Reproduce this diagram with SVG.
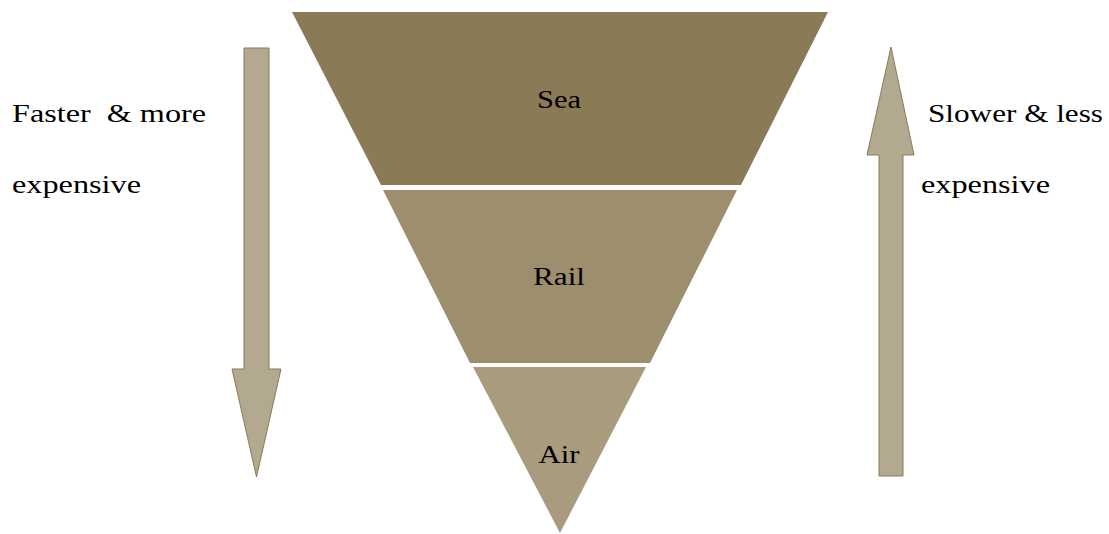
<svg xmlns="http://www.w3.org/2000/svg" width="1109" height="534" viewBox="0 0 1109 534">
<style>
.t{font-family:"Liberation Serif","Times New Roman",serif;font-size:26px;fill:#000}
.arrow{fill:#b3a890;stroke:#8b7b57;stroke-width:1}
</style>
<rect width="1109" height="534" fill="#fff"/>
<g id="sea">
<polygon points="292,12 828,12 741,185 381,185" fill="#8a7a56"/>
<text class="t" x="559" y="108" text-anchor="middle" textLength="44" lengthAdjust="spacingAndGlyphs">Sea</text>
</g>
<g id="rail">
<polygon points="383,190 737,190 650,363 470,363" fill="#9d8e6d"/>
<text class="t" x="559" y="285" text-anchor="middle" textLength="52" lengthAdjust="spacingAndGlyphs">Rail</text>
</g>
<g id="air">
<polygon points="473,367 646,367 560,533" fill="#a99c7e"/>
<text class="t" x="559" y="463" text-anchor="middle" textLength="41" lengthAdjust="spacingAndGlyphs">Air</text>
</g>
<g id="connectors">
<polygon class="arrow" points="244,48 269,48 269,369 281,369 256.5,477 232,369 244,369"/>
<polygon class="arrow" points="879,476 903,476 903,155 914,155 891,47 867,155 879,155"/>
</g>
<g id="label-left">
<text class="t" x="12" y="122" textLength="194" lengthAdjust="spacingAndGlyphs" xml:space="preserve">Faster  &amp; more</text>
<text class="t" x="12" y="193" textLength="129" lengthAdjust="spacingAndGlyphs">expensive</text>
</g>
<g id="label-right">
<text class="t" x="928" y="122" textLength="175" lengthAdjust="spacingAndGlyphs">Slower &amp; less</text>
<text class="t" x="921" y="193" textLength="129" lengthAdjust="spacingAndGlyphs">expensive</text>
</g>
</svg>
